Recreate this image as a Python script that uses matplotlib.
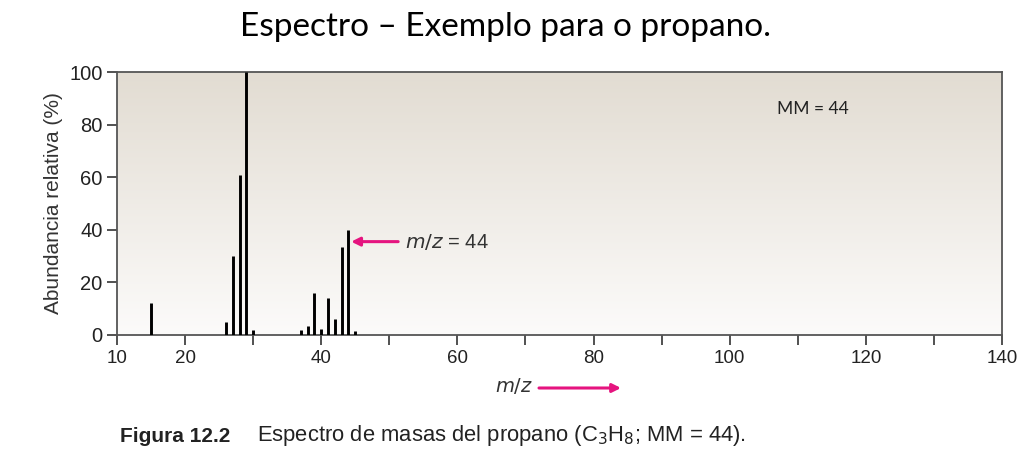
import numpy as np
import matplotlib.pyplot as plt
from matplotlib.colors import LinearSegmentedColormap
from matplotlib.patches import FancyArrowPatch

# mass spectrum of propane
mz = [15, 26, 27, 28, 29, 30, 37, 38, 39, 40, 41, 42, 43, 44, 45]
abundance = [12, 5, 30, 61, 100, 2, 2, 3.5, 16, 2.3, 14, 6, 33.5, 40, 1.7]
x_ticks = [10, 20, 30, 40, 50, 60, 70, 80, 90, 100, 110, 120, 130, 140]
x_labels = ["10", "20", "", "40", "", "60", "", "80", "", "100", "", "120", "", "140"]
y_ticks = [0, 20, 40, 60, 80, 100]

magenta = "#e5147f"
sans = "Liberation Sans"

fig = plt.figure(figsize=(10.24, 4.62), dpi=100)
ax = fig.add_axes([117 / 1024, 1 - 335 / 462, 885 / 1024, 263 / 462])

# background gradient
bg = LinearSegmentedColormap.from_list("bg", ["#fcfbfa", "#e2dcd2"])
grad = np.linspace(0, 1, 256).reshape(-1, 1)
ax.imshow(grad, cmap=bg, aspect="auto", extent=[0, 1, 0, 1], origin="lower",
          transform=ax.transAxes, zorder=0)

ax.vlines(mz, 0, abundance, colors="black", linewidth=2.1, zorder=3)

ax.set_xlim(10, 140)
ax.set_ylim(0, 100)
ax.set_xticks(x_ticks)
ax.set_xticklabels(x_labels, family=sans, fontsize=13.5)
ax.set_yticks(y_ticks)
ax.set_yticklabels([str(v) for v in y_ticks], family=sans, fontsize=14.5)
ax.tick_params(axis="both", direction="out", length=7, width=1.2, color="#333333",
               labelcolor="#222222")
ax.tick_params(axis="x", pad=4)
for s in ax.spines.values():
    s.set_color("#555555")
    s.set_linewidth(1.3)

ax.set_ylabel("Abundancia relativa (%)", family=sans, fontsize=15,
              color="#333333", labelpad=4)

# m/z = 44 annotation
ax.annotate("", xy=(44.4, 35.5), xytext=(51.3, 35.5),
            arrowprops=dict(arrowstyle="-|>,head_length=0.5,head_width=0.25",
                            color=magenta, lw=2.2, shrinkA=0, shrinkB=0), zorder=4)
ax.text(52.3, 35.5, "$\\mathit{m/z}$ = 44", fontsize=14.5, va="center", ha="left",
        family=sans, color="#333333", zorder=4)

ax.text(107, 84, "MM = 44", fontsize=12.5, family="Lato", color="#222222")

# x axis label with arrow
fig.text(533 / 1024, 1 - 386 / 462, "$\\mathit{m/z}$", fontsize=14, ha="right",
         va="center", family=sans, color="#333333")
fig.patches.append(FancyArrowPatch(
    (539 / 1024, 1 - 388 / 462), (621 / 1024, 1 - 388 / 462),
    transform=fig.transFigure, arrowstyle="-|>,head_length=0.5,head_width=0.25",
    mutation_scale=10, color=magenta, lw=2.2, shrinkA=0, shrinkB=0))

fig.text(506 / 1024, 1 - 27 / 462, "Espectro \u2013 Exemplo para o propano.",
         fontsize=24, ha="center", va="center", family="Lato", color="black")

fig.text(120 / 1024, 1 - 436 / 462, "Figura 12.2", fontsize=15, fontweight="bold",
         family=sans, va="center", color="#222222")
fig.text(257 / 1024, 1 - 436 / 462,
         "Espectro de masas del propano (C$_3$H$_8$; MM = 44).",
         fontsize=15.8, family=sans, va="center", color="#222222")

fig.savefig("out.png", dpi=100)
